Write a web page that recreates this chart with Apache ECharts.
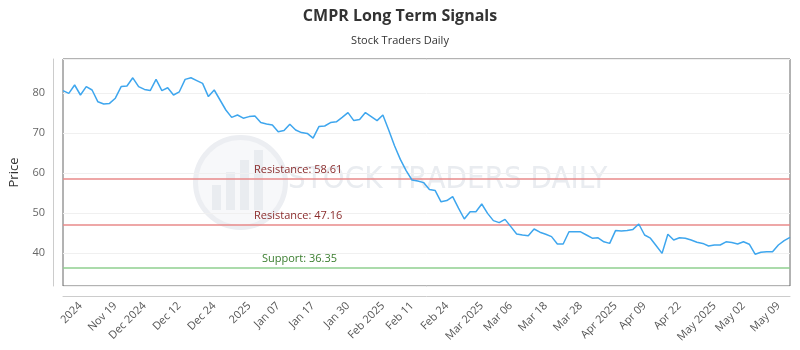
<!DOCTYPE html>
<html lang="en">
<head>
    <meta charset="UTF-8">
    <title>CMPR Long Term Signals</title>
    <script src="https://cdn.jsdelivr.net/npm/echarts@6/dist/echarts.min.js"></script>
    <style>
        html, body { margin: 0; padding: 0; background: #fff; }
        #main { width: 800px; height: 350px; }
    </style>
</head>
<body>
<div id="main"></div>
<script type="text/javascript">
    // closing prices, one per trading session
    var prices = [
        80.6, 79.9, 82.0, 79.5, 81.6, 80.75, 77.8, 77.25, 77.4, 78.7,
        81.6, 81.75, 83.8, 81.6, 80.9, 80.6, 83.4, 80.6, 81.3, 79.5,
        80.3, 83.4, 83.8, 83.1, 82.4, 79.1, 80.75, 78.25, 75.75, 73.9,
        74.5, 73.7, 74.1, 74.25, 72.6, 72.25, 72.0, 70.3, 70.6, 72.2,
        70.75, 70.1, 69.9, 68.7, 71.6, 71.75, 72.6, 72.8, 73.9, 75.1,
        73.1, 73.4, 75.1, 74.1, 73.1, 74.5, 70.75, 66.8, 63.4, 60.6,
        58.25, 58.0, 57.6, 55.9, 55.6, 52.8, 53.1, 54.1, 51.2, 48.5,
        50.3, 50.3, 52.25, 49.9, 48.1, 47.6, 48.4, 46.6, 44.75, 44.5,
        44.3, 46.0, 45.2, 44.7, 44.1, 42.25, 42.25, 45.3, 45.3, 45.3,
        44.5, 43.7, 43.8, 42.8, 42.4, 45.6, 45.5, 45.6, 45.9, 47.25,
        44.5, 43.7, 41.8, 39.9, 44.7, 43.25, 43.8, 43.7, 43.25, 42.7,
        42.4, 41.75, 42.0, 42.0, 42.8, 42.6, 42.25, 42.8, 42.2, 39.7,
        40.2, 40.3, 40.3, 42.0, 43.1, 43.9
    ];
    // axis labels and the session each one sits on
    var tickLabels = ['2024', 'Nov 19', 'Dec 2024', 'Dec 12', 'Dec 24', '2025', 'Jan 07', 'Jan 17',
        'Jan 30', 'Feb 2025', 'Feb 11', 'Feb 24', 'Mar 2025', 'Mar 06', 'Mar 18', 'Mar 28',
        'Apr 2025', 'Apr 09', 'Apr 22', 'May 2025', 'May 02', 'May 09'];
    var tickIndex = [3, 9, 14, 20, 26, 32, 37, 43, 49, 55, 60, 66, 72, 77, 83, 89, 95, 100, 106, 112, 117, 123];
    var levels = [
        {name: 'Resistance', value: 58.61},
        {name: 'Resistance', value: 47.16},
        {name: 'Support', value: 36.35}
    ];

    var sessions = prices.map(function (p, i) { return i; });

    var chart = echarts.init(document.getElementById('main'));

    chart.setOption({
        animation: false,
        textStyle: {fontFamily: 'Open Sans'},
        title: {
            text: 'CMPR Long Term Signals',
            subtext: 'Stock Traders Daily',
            left: 'center',
            top: 3,
            itemGap: 11,
            textStyle: {fontSize: 16, fontWeight: 'bold', color: '#333', fontFamily: 'Open Sans'},
            subtextStyle: {fontSize: 11, color: '#333', fontFamily: 'Open Sans'}
        },
        grid: {
            left: 60, right: 10, top: 59, bottom: 64,
            show: true, borderColor: '#666', borderWidth: 1
        },
        // faint watermark behind the plot
        graphic: [
            {
                type: 'circle', left: 193, top: 135, z: 0,
                shape: {r: 45},
                style: {fill: '#f7f8fa', stroke: '#eceef2', lineWidth: 5}
            },
            {type: 'rect', left: 212, top: 185, z: 0, shape: {width: 9, height: 25}, style: {fill: '#e9ecf0'}},
            {type: 'rect', left: 226, top: 172, z: 0, shape: {width: 9, height: 38}, style: {fill: '#e9ecf0'}},
            {type: 'rect', left: 240, top: 160, z: 0, shape: {width: 9, height: 50}, style: {fill: '#e9ecf0'}},
            {type: 'rect', left: 254, top: 150, z: 0, shape: {width: 9, height: 60}, style: {fill: '#e9ecf0'}},
            {
                type: 'text', left: 288, top: 164, z: 0,
                style: {
                    text: 'STOCK TRADERS DAILY',
                    font: '31px "DejaVu Sans Condensed"',
                    fill: '#e9ecf0'
                }
            }
        ],
        xAxis: {
            type: 'category',
            data: sessions,
            boundaryGap: false,
            offset: 10,
            axisLine: {lineStyle: {color: '#ccc'}},
            axisTick: {show: false},
            splitLine: {show: false},
            axisLabel: {
                rotate: 45,
                fontSize: 11,
                color: '#555',
                margin: 8,
                interval: function (i) { return tickIndex.indexOf(i) >= 0; },
                formatter: function (v, i) { return tickLabels[tickIndex.indexOf(+v)]; }
            }
        },
        yAxis: {
            type: 'value',
            min: 31.75,
            max: 88.5,
            offset: 10,
            name: 'Price',
            nameLocation: 'middle',
            nameGap: 32,
            nameTextStyle: {fontSize: 13, color: '#333'},
            axisLine: {show: true, lineStyle: {color: '#ccc'}},
            axisTick: {show: false},
            axisLabel: {fontSize: 11, color: '#666', showMinLabel: false, showMaxLabel: false},
            splitLine: {lineStyle: {color: '#f0f0f0'}}
        },
        series: [{
            type: 'line',
            data: prices,
            symbol: 'none',
            lineStyle: {color: '#3ea6ee', width: 1.5},
            z: 5,
            markLine: {
                silent: true,
                symbol: 'none',
                data: levels.map(function (l) {
                    var support = l.name === 'Support';
                    return {
                        yAxis: l.value,
                        lineStyle: {color: support ? '#8fcf8f' : '#e88a8a', width: 1.5, type: 'solid'},
                        label: {
                            position: 'insideStartTop',
                            distance: [support ? 199 : 191, 3],
                            formatter: l.name + ': ' + l.value.toFixed(2),
                            color: support ? '#3a7d2e' : '#8b2d2d',
                            fontSize: 11
                        }
                    };
                })
            }
        }]
    });
</script>
</body>
</html>
